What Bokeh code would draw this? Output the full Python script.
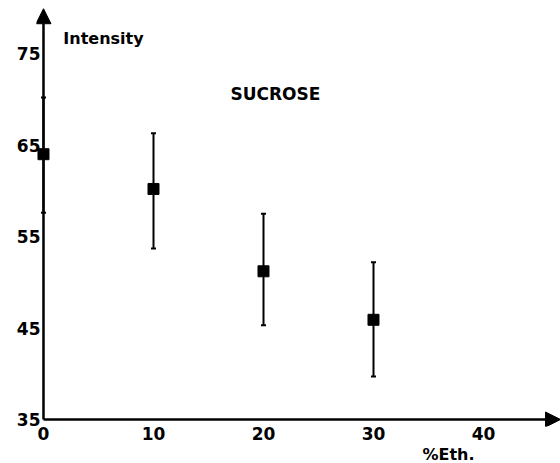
from bokeh.plotting import figure
from bokeh.models import (Range1d, FixedTicker, Arrow, NormalHead, TeeHead,
                          Whisker, ColumnDataSource, Label)
from bokeh.embed import file_html
from bokeh.resources import INLINE

# Ethanol content (%) and measured intensity with its spread
ethanol = [0, 10, 20, 30]
intensity = [64.0, 60.2, 51.2, 45.9]
upper = [70.2, 66.3, 57.5, 52.2]
lower = [57.6, 53.7, 45.3, 39.7]

x_ticks = [0, 10, 20, 30, 40]
y_ticks = [35, 45, 55, 65, 75]

FONT = "DejaVu Sans"

# the frame reaches a few pixels past both axes so the marker on the
# y axis and both arrow heads stay whole
p = figure(width=560, height=463, output_backend="svg", toolbar_location=None,
           x_range=Range1d(-0.636, 47), y_range=Range1d(34.235, 80.8),
           min_border_left=36, min_border_right=0, min_border_top=0,
           min_border_bottom=37)
p.outline_line_color = None
p.grid.visible = False
p.background_fill_color = "white"
p.border_fill_color = "white"

for ax in (p.xaxis[0], p.yaxis[0]):
    ax.axis_line_color = None
    ax.minor_tick_line_color = None
    ax.major_tick_line_color = None
    ax.major_tick_in = 0
    ax.major_tick_out = 0
    ax.major_label_text_font = FONT
    ax.major_label_text_font_style = "bold"
    ax.major_label_text_font_size = "17px"
    ax.major_label_text_color = "black"

xa, ya = p.xaxis[0], p.yaxis[0]
xa.ticker = FixedTicker(ticks=x_ticks)
ya.ticker = FixedTicker(ticks=y_ticks)
xa.major_label_standoff = 0
ya.major_label_standoff = -4

head_kw = dict(size=15, fill_color="black", line_color="black")
# axis lines with their arrow heads
p.add_layout(Arrow(x_start=0, y_start=35, x_end=0, y_end=79.9,
                   line_width=2.5, line_color="black", end=NormalHead(**head_kw)))
p.add_layout(Arrow(x_start=0, y_start=35, x_end=47, y_end=35,
                   line_width=2.5, line_color="black", end=NormalHead(**head_kw)))

src = ColumnDataSource(dict(x=ethanol, y=intensity, upper=upper, lower=lower))

p.add_layout(Whisker(source=src, base="x", upper="upper", lower="lower",
                     line_width=2, line_color="black",
                     upper_head=TeeHead(size=5, line_width=2, line_color="black"),
                     lower_head=TeeHead(size=5, line_width=2, line_color="black")))

p.scatter("x", "y", source=src, marker="square", size=11,
          fill_color="black", line_color="black")

text_kw = dict(text_font=FONT, text_font_style="bold", text_color="black",
               text_baseline="alphabetic")
p.add_layout(Label(x=1.8, y=76.6, text="Intensity", text_font_size="16px", **text_kw))
p.add_layout(Label(x=17.0, y=70.6, text="SUCROSE", text_font_size="17px", **text_kw))
# x-axis title sits under the tick labels, in the lower panel
p.add_layout(Label(x=34.45, y=31.2, text="%Eth.", text_font_size="16px", **text_kw),
             "below")

open("out.html", "w").write(file_html(p, INLINE))
